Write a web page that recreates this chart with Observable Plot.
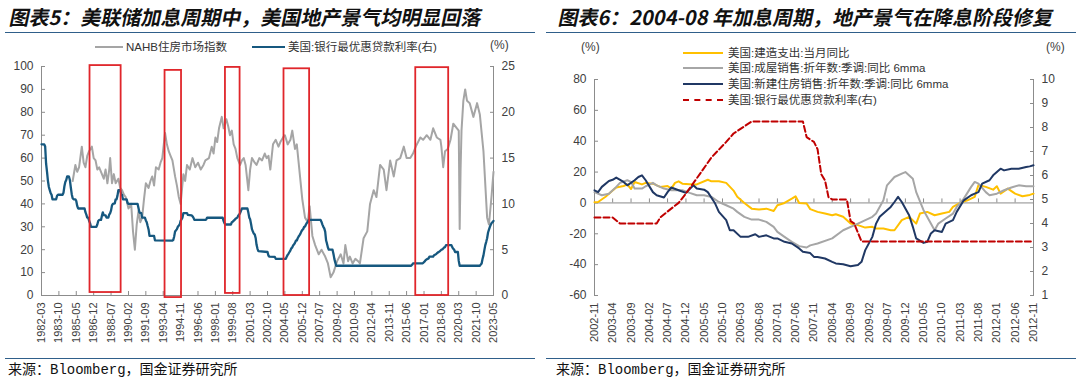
<!DOCTYPE html>
<html><head><meta charset="utf-8">
<script src="https://cdn.jsdelivr.net/npm/d3@7"></script>
<script src="https://cdn.jsdelivr.net/npm/@observablehq/plot@0.6"></script>
<style>
body{margin:0;width:1080px;height:385px;background:#fff;position:relative;overflow:hidden;font-family:"Liberation Sans","Noto Sans CJK SC",sans-serif;}
.abs{position:absolute;white-space:nowrap;}
.title{font-family:"Noto Sans CJK SC",sans-serif;font-weight:700;font-size:20px;line-height:20px;color:#111;transform:skewX(-12deg);transform-origin:0 100%;}
.rule{position:absolute;height:0;border-top:1.6px solid #2f5f8a;}
.src{font-family:"Liberation Mono","Noto Sans CJK SC",monospace;font-size:14px;line-height:14px;color:#111;}
.leg{font-family:"Liberation Sans","Noto Sans CJK SC",sans-serif;font-size:11.5px;line-height:12px;color:#333;}
.sw{position:absolute;height:0;}
.pct{font-size:12px;color:#404040;}
</style></head><body>
<div class="abs title" style="left:8px;top:7px;">图表5：美联储加息周期中，美国地产景气均明显回落</div>
<div class="abs title" style="left:557px;top:7px;">图表6：2004-08 年加息周期，地产景气在降息阶段修复</div>
<div class="rule" style="left:5px;top:32px;width:530px;"></div>
<div class="rule" style="left:546px;top:32px;width:530px;"></div>

<div id="leftChart" class="abs" style="left:0;top:55px;"></div>
<div id="rightChart" class="abs" style="left:545px;top:55px;"></div>

<!-- left legend -->
<div class="sw" style="left:95px;top:46px;width:28px;border-top:2.5px solid #a5a5a5;"></div>
<div class="abs leg" style="left:126px;top:41px;">NAHB住房市场指数</div>
<div class="sw" style="left:252px;top:46px;width:33px;border-top:2.5px solid #16587f;"></div>
<div class="abs leg" style="left:288px;top:41px;">美国:银行最优惠贷款利率(右)</div>
<div class="abs pct" style="left:490px;top:38px;">(%)</div>

<!-- right legend -->
<div class="sw" style="left:683px;top:52px;width:40px;border-top:2.5px solid #ffc000;"></div>
<div class="abs leg" style="left:728px;top:47px;">美国:建造支出:当月同比</div>
<div class="sw" style="left:683px;top:67px;width:40px;border-top:2.5px solid #a6a6a6;"></div>
<div class="abs leg" style="left:728px;top:62px;">美国:成屋销售:折年数:季调:同比 6mma</div>
<div class="sw" style="left:683px;top:83px;width:40px;border-top:2.5px solid #203864;"></div>
<div class="abs leg" style="left:728px;top:78px;">美国:新建住房销售:折年数:季调:同比 6mma</div>
<div class="sw" style="left:683px;top:99px;width:40px;border-top:2.5px dashed #c00000;"></div>
<div class="abs leg" style="left:728px;top:94px;">美国:银行最优惠贷款利率(右)</div>
<div class="abs pct" style="left:581px;top:40px;">(%)</div>
<div class="abs pct" style="left:1046px;top:40px;">(%)</div>

<div class="rule" style="left:5px;top:358px;width:530px;"></div>
<div class="rule" style="left:546px;top:358px;width:530px;"></div>
<div class="abs src" style="left:8px;top:363px;">来源：Bloomberg，国金证券研究所</div>
<div class="abs src" style="left:556px;top:363px;">来源：Bloomberg，国金证券研究所</div>

<script>
// ---------- Chart 5 data ----------
const leftTickLabels = ["1982-03","1983-10","1985-05","1986-12","1988-07","1990-02","1991-09","1993-04","1994-11","1996-06","1998-01","1999-08","2001-03","2002-10","2004-05","2005-12","2007-07","2009-02","2010-09","2012-04","2013-11","2015-06","2017-01","2018-08","2020-03","2021-10","2023-05"];
const leftAxisTicks = [0,10,20,30,40,50,60,70,80,90,100];
const leftRightAxisTicks = [0,5,10,15,20,25];

const nahbIndex = [
["1985-01",50],["1985-04",57],["1985-06",54],["1985-08",56],["1985-11",65],["1986-01",58],["1986-03",56],["1986-05",61],["1986-07",63],["1986-10",65],
["1986-12",60],["1987-02",59],["1987-04",55],["1987-06",56],["1987-09",53],["1987-11",51],["1988-01",55],["1988-03",49],["1988-05",55],["1988-06",60],
["1988-08",49],["1988-10",53],["1988-12",49],["1989-03",51],["1989-05",47],["1989-07",46],["1989-09",44],["1989-11",43],["1990-02",38],["1990-05",40],
["1990-07",28],["1990-09",20],["1990-11",31],["1991-01",37],["1991-03",32],["1991-05",34],["1991-07",42],["1991-09",49],["1991-12",47],["1992-02",50],
["1992-04",52],["1992-06",48],["1992-08",56],["1992-11",55],["1993-01",58],["1993-03",60],["1993-06",71],["1993-08",66],["1993-10",63],["1993-12",61],
["1994-02",59],["1994-05",52],["1994-07",48],["1994-09",43],["1994-11",40],["1995-02",53],["1995-04",50],["1995-06",57],["1995-09",55],["1995-12",60],
["1996-03",56],["1996-06",58],["1996-09",55],["1996-12",57],["1997-02",59],["1997-06",60],["1997-09",65],["1997-11",62],["1998-01",69],["1998-03",67],
["1998-05",73],["1998-08",78],["1998-10",73],["1999-01",77],["1999-03",74],["1999-05",70],["1999-07",72],["1999-09",66],["1999-11",64],["2000-01",60],
["2000-04",57],["2000-06",59],["2000-08",60],["2000-10",57],["2001-01",46],["2001-03",55],["2001-05",60],["2001-08",58],["2001-10",57],["2002-01",60],
["2002-04",59],["2002-07",62],["2002-09",60],["2002-11",61],["2003-01",55],["2003-04",66],["2003-07",68],["2003-10",65],["2003-12",67],["2004-03",69],
["2004-05",70],["2004-08",66],["2004-11",68],["2005-01",72],["2005-04",64],["2005-06",66],["2005-08",58],["2005-12",42],["2006-03",34],["2006-06",32],
["2006-08",39],["2006-11",26],["2007-02",22],["2007-06",18],["2007-09",20],["2008-01",17],["2008-04",14],["2008-07",8],["2008-10",10],["2009-02",15],
["2009-06",18],["2009-09",14],["2009-11",22],["2010-02",15],["2010-04",17],["2010-07",14],["2010-10",16],["2011-01",15],["2011-03",14],["2011-07",25],
["2011-11",28],["2012-02",40],["2012-06",46],["2012-09",43],["2013-01",57],["2013-05",55],["2013-08",46],["2013-12",59],["2014-04",52],["2014-07",59],
["2014-11",60],["2015-03",65],["2015-06",60],["2015-10",60],["2016-01",62],["2016-04",65],["2016-09",69],["2016-12",68],["2017-04",70],["2017-08",68],
["2017-11",73],["2018-03",69],["2018-07",68],["2018-08",65],["2018-10",56],["2018-12",63],["2019-03",64],["2019-06",68],["2019-09",75],["2020-01",73],
["2020-03",72],["2020-04",29],["2020-05",55],["2020-06",72],["2020-08",85],["2020-10",90],["2020-12",85],["2021-03",84],["2021-07",78],["2021-11",84],
["2022-02",79],["2022-06",63],["2022-10",34],["2022-12",31],["2023-03",44],["2023-05",54]
];

const primeRate = [
["1982-03",16.5],["1982-06",16.5],["1982-07",16.26],["1982-08",14.39],["1982-09",13.5],["1982-10",12.52],["1982-11",11.85],["1982-12",11.5],["1983-01",11.16],["1983-02",10.98],
["1983-03",10.5],["1983-07",10.5],["1983-08",10.89],["1983-09",11.0],["1984-02",11.0],["1984-03",11.21],["1984-04",11.93],["1984-05",12.39],["1984-06",12.6],["1984-07",13.0],
["1984-08",13.0],["1984-09",12.97],["1984-10",12.58],["1984-11",11.77],["1984-12",11.06],["1985-01",10.61],["1985-02",10.5],["1985-04",10.5],["1985-05",10.31],["1985-06",9.78],
["1985-07",9.5],["1986-02",9.5],["1986-03",9.1],["1986-04",8.83],["1986-05",8.5],["1986-06",8.5],["1986-07",8.16],["1986-08",7.9],["1986-09",7.5],["1987-03",7.5],
["1987-04",7.75],["1987-05",8.14],["1987-06",8.25],["1987-08",8.25],["1987-09",8.7],["1987-10",9.07],["1987-11",8.78],["1988-01",8.75],["1988-02",8.51],["1988-04",8.5],
["1988-05",8.84],["1988-06",9.0],["1988-07",9.29],["1988-08",9.84],["1988-09",10.0],["1988-11",10.05],["1988-12",10.5],["1989-01",10.5],["1989-02",10.93],["1989-03",11.5],
["1989-05",11.5],["1989-06",11.07],["1989-07",10.98],["1989-08",10.5],["1989-12",10.5],["1990-01",10.11],["1990-02",10.0],["1990-12",10.0],["1991-01",9.52],["1991-02",9.05],
["1991-04",9.0],["1991-05",8.5],["1991-08",8.5],["1991-09",8.2],["1991-10",8.0],["1991-11",7.58],["1991-12",7.21],["1992-01",6.5],["1992-06",6.5],["1992-07",6.02],
["1994-02",6.0],["1994-03",6.06],["1994-04",6.45],["1994-05",6.99],["1994-07",7.25],["1994-08",7.51],["1994-10",7.75],["1994-11",8.15],["1995-01",8.5],["1995-02",9.0],
["1995-06",9.0],["1995-07",8.8],["1995-11",8.75],["1995-12",8.65],["1996-01",8.5],["1996-02",8.25],["1997-02",8.25],["1997-03",8.3],["1997-04",8.5],["1998-09",8.49],
["1998-10",8.12],["1998-11",7.89],["1998-12",7.75],["1999-06",7.75],["1999-07",8.0],["1999-08",8.06],["1999-10",8.25],["1999-11",8.37],["2000-01",8.5],["2000-02",8.73],
["2000-03",8.83],["2000-04",9.0],["2000-05",9.24],["2000-06",9.5],["2000-12",9.5],["2001-01",9.05],["2001-02",8.5],["2001-03",8.32],["2001-04",7.8],["2001-05",7.24],
["2001-06",6.98],["2001-07",6.75],["2001-08",6.67],["2001-09",6.28],["2001-10",5.53],["2001-11",5.1],["2001-12",4.84],["2002-10",4.75],["2002-11",4.35],["2002-12",4.25],
["2003-06",4.22],["2003-07",4.0],["2004-06",4.01],["2004-07",4.25],["2004-08",4.43],["2004-09",4.58],["2004-10",4.75],["2004-11",4.93],["2004-12",5.15],["2005-01",5.25],
["2005-02",5.49],["2005-03",5.58],["2005-04",5.75],["2005-05",5.98],["2005-06",6.01],["2005-07",6.25],["2005-08",6.44],["2005-09",6.59],["2005-10",6.75],["2005-11",7.0],
["2005-12",7.15],["2006-01",7.26],["2006-02",7.5],["2006-03",7.53],["2006-04",7.75],["2006-05",7.93],["2006-06",8.02],["2006-07",8.25],["2007-08",8.25],["2007-09",8.03],
["2007-10",7.74],["2007-11",7.5],["2007-12",7.33],["2008-01",6.98],["2008-02",6.0],["2008-03",5.66],["2008-04",5.24],["2008-05",5.0],["2008-09",5.0],["2008-10",4.56],
["2008-11",4.0],["2008-12",3.61],["2009-01",3.25],["2015-11",3.25],["2015-12",3.35],["2016-01",3.5],["2016-11",3.5],["2016-12",3.55],["2017-02",3.75],["2017-03",3.88],
["2017-05",4.0],["2017-06",4.05],["2017-07",4.25],["2017-11",4.25],["2017-12",4.4],["2018-02",4.5],["2018-03",4.59],["2018-05",4.75],["2018-06",4.8],["2018-08",5.0],
["2018-09",5.03],["2018-11",5.25],["2018-12",5.28],["2019-01",5.5],["2019-07",5.5],["2019-08",5.25],["2019-09",5.1],["2019-10",4.99],["2019-11",4.75],["2020-02",4.75],
["2020-03",3.78],["2020-04",3.25],["2022-02",3.25],["2022-03",3.37],["2022-04",3.5],["2022-05",3.98],["2022-06",4.38],["2022-07",4.95],["2022-08",5.5],["2022-09",5.86],
["2022-10",6.25],["2022-11",6.88],["2022-12",7.19],["2023-01",7.5],["2023-02",7.74],["2023-03",7.92],["2023-04",8.0],["2023-05",8.14]
];

// rate-hike windows marked with red boxes
const hikeBoxStart  = ["1986-08","1993-06","1998-12","2004-04","2016-04"];
const hikeBoxEnd    = ["1989-06","1994-12","2000-04","2006-08","2019-04"];
const hikeBoxTop    = [100.4, 98.3, 99.6, 99.0, 99.5];
const hikeBoxBottom = [1.3, -0.9, 0.9, 0, 0];

// ---------- Chart 6 data ----------
const rightTickLabels = ["2002-11","2003-04","2003-09","2004-02","2004-07","2004-12","2005-05","2005-10","2006-03","2006-08","2007-01","2007-06","2007-11","2008-04","2008-09","2009-02","2009-07","2009-12","2010-05","2010-10","2011-03","2011-08","2012-01","2012-06","2012-11"];
const rightLeftAxisTicks = [-60,-40,-20,0,20,40,60,80];
const rightRightAxisTicks = [1,2,3,4,5,6,7,8,9,10];

const constructionYoY = [
["2002-11",0.5],["2002-12",0.6],["2003-02",4],["2003-04",8],["2003-05",10],["2003-07",11],["2003-08",12],["2003-09",9],["2003-10",13.6],["2003-12",12],
["2004-01",13],["2004-03",12.5],["2004-05",10.4],["2004-07",11],["2004-08",9.3],["2004-09",13],["2004-10",14],["2004-11",12.5],["2005-02",12],["2005-03",12],
["2005-06",15],["2005-07",14],["2005-09",14],["2005-11",13],["2006-01",8],["2006-02",4],["2006-04",0],["2006-06",-3.7],["2006-08",-4.3],["2006-10",-3.7],
["2006-12",-5.2],["2007-01",-1.5],["2007-03",0],["2007-05",2.8],["2007-06",4.3],["2007-07",0],["2007-09",-0.4],["2007-10",-4],["2007-12",-5.8],["2008-02",-6.9],
["2008-04",-8],["2008-05",-7.3],["2008-07",-9],["2008-09",-13.4],["2008-11",-14.4],["2009-01",-16],["2009-03",-15.5],["2009-04",-16.6],["2009-06",-16.6],["2009-08",-17.7],
["2009-09",-17.7],["2009-11",-11.2],["2010-01",-9],["2010-03",-13.4],["2010-04",-6.9],["2010-06",-5.8],["2010-08",-8],["2010-10",-6.9],["2010-12",-5.8],["2011-01",-2.6],
["2011-03",0],["2011-05",1.7],["2011-07",3.9],["2011-08",11.6],["2011-10",10.4],["2011-12",8.6],["2012-01",10.8],["2012-02",6],["2012-04",9.3],["2012-06",6],
["2012-08",4.3],["2012-10",5.2],["2012-11",6]
];

const existingSalesYoY = [
["2002-11",7],["2003-01",5],["2003-03",6],["2003-05",10.4],["2003-06",13],["2003-08",14.7],["2003-09",13.6],["2003-10",9.3],["2003-12",9.3],["2004-01",10.8],
["2004-03",13],["2004-04",11.4],["2004-06",9.3],["2004-08",8.2],["2004-11",8.2],["2005-01",6.5],["2005-03",5],["2005-05",5],["2005-07",3.9],["2005-09",0.6],
["2005-11",-1.5],["2006-01",-3.7],["2006-02",-5.8],["2006-04",-9],["2006-06",-10.8],["2006-08",-10.8],["2006-10",-12.3],["2006-12",-15.5],["2007-01",-18.8],["2007-03",-22],
["2007-05",-25.2],["2007-07",-28],["2007-09",-28.9],["2007-10",-27.5],["2007-12",-26.3],["2008-04",-23],["2008-07",-17.7],["2008-11",-13.4],["2009-03",-9],["2009-04",-6.9],
["2009-06",1.7],["2009-07",11.4],["2009-09",16.8],["2009-11",19],["2009-12",20],["2010-02",15.7],["2010-03",7],["2010-05",-4.7],["2010-07",-13.4],["2010-08",-17.7],
["2010-09",-13.4],["2010-11",-10.1],["2011-01",-6.9],["2011-02",-2.6],["2011-04",2.8],["2011-06",10.4],["2011-07",13.6],["2011-08",12.5],["2011-10",7],["2011-11",5],
["2012-01",6],["2012-03",8.2],["2012-05",10],["2012-07",11.4],["2012-09",10.8],["2012-11",10.8]
];

const newSalesYoY = [
["2002-11",8.2],["2002-12",7],["2003-01",10.4],["2003-03",14.2],["2003-04",15],["2003-05",16.4],["2003-07",13.6],["2003-08",11.4],["2003-10",14.7],["2003-11",16.8],
["2003-12",17.9],["2004-01",14.7],["2004-03",7],["2004-04",5],["2004-06",3.5],["2004-07",7],["2004-08",10],["2004-10",8.2],["2004-12",6.5],["2005-02",11.4],
["2005-03",9.3],["2005-05",8.6],["2005-06",7],["2005-08",-0.4],["2005-09",-5.8],["2005-11",-11.2],["2005-12",-17.7],["2006-01",-17.7],["2006-03",-22],["2006-05",-22],
["2006-07",-20.3],["2006-08",-22],["2006-10",-21],["2006-12",-23],["2007-01",-23],["2007-03",-25.2],["2007-05",-26.3],["2007-07",-29.5],["2007-08",-31.7],["2007-10",-32.5],
["2007-11",-35],["2007-12",-35],["2008-02",-36],["2008-04",-38.2],["2008-05",-39.2],["2008-07",-39.7],["2008-09",-41],["2008-11",-40.3],["2008-12",-38.2],["2009-01",-30.6],
["2009-03",-22],["2009-04",-13.4],["2009-05",-9],["2009-07",-4.7],["2009-08",-2.6],["2009-09",0.6],["2009-10",3.9],["2009-11",0.6],["2010-01",-8],["2010-02",-15.5],
["2010-03",-23],["2010-05",-25.9],["2010-06",-25.2],["2010-07",-19.8],["2010-08",-17.7],["2010-10",-18.8],["2010-11",-13.4],["2011-01",-11.2],["2011-02",-5.8],["2011-04",1.7],
["2011-06",5],["2011-07",6],["2011-08",7],["2011-09",12.5],["2011-11",14.7],["2011-12",17.9],["2012-02",22.2],["2012-03",21.1],["2012-05",22.2],["2012-07",22.2],
["2012-09",23.3],["2012-10",23.7],["2012-11",24.4]
];

const primeRateRight = [
["2002-11",4.25],["2003-04",4.25],["2003-06",4.0],["2004-04",4.0],["2004-05",4.25],["2004-07",4.5],["2004-10",4.86],["2004-12",5.25],["2005-04",6.1],["2005-07",6.75],
["2005-11",7.4],["2006-01",7.75],["2006-06",8.25],["2007-08",8.25],["2007-09",7.6],["2007-11",7.4],["2007-12",7.1],["2008-01",6.05],["2008-02",5.8],["2008-03",5.1],
["2008-04",5.0],["2008-08",5.0],["2008-09",4.1],["2008-10",4.0],["2008-12",3.25],["2012-11",3.25]
];

// ---------- helpers ----------
const parse = d3.utcParse("%Y-%m");
const fmt = d3.utcFormat("%Y-%m");
const plain = d => `${d}`;
const rows = arr => arr.map(([d, v]) => ({date: parse(d), value: v}));
const axisGray = "#8c8c8c";
const textGray = "#404040";
const baseStyle = {fontFamily: "'Liberation Sans', Arial, sans-serif", fontSize: "12px", color: textGray, background: "none", overflow: "visible"};

// ---------- Chart 5 ----------
const lt = leftTickLabels.map(parse);
const boxes = hikeBoxStart.map((s, i) => ({x1: parse(s), x2: parse(hikeBoxEnd[i]), y1: hikeBoxBottom[i], y2: hikeBoxTop[i]}));
const leftPlot = Plot.plot({
  width: 540, height: 300,
  marginTop: 11, marginRight: 47, marginBottom: 60, marginLeft: 41,
  style: baseStyle,
  x: {type: "utc", domain: [lt[0], lt[lt.length - 1]], label: null},
  y: {domain: [0, 100], label: null},
  marks: [
    Plot.ruleY([0], {stroke: axisGray}),
    Plot.ruleX([lt[0], lt[lt.length - 1]], {stroke: axisGray}),
    Plot.ruleX(lt, {y1: 0, y2: 1.75, stroke: axisGray}),
    Plot.axisX({ticks: lt, tickFormat: fmt, tickRotate: -90, tickSize: 0, tickPadding: 7, fontSize: 11, fill: textGray, label: null}),
    Plot.axisY({ticks: leftAxisTicks, tickFormat: plain, anchor: "left", tickSize: -4, tickPadding: 12, stroke: axisGray, fill: textGray, label: null}),
    Plot.axisY({ticks: leftRightAxisTicks.map(v => v * 4), tickFormat: d => `${d / 4}`, anchor: "right", tickSize: -4, tickPadding: 12, stroke: axisGray, fill: textGray, label: null}),
    Plot.line(rows(nahbIndex), {x: "date", y: "value", stroke: "#a5a5a5", strokeWidth: 2}),
    Plot.line(rows(primeRate), {x: "date", y: d => d.value * 4, stroke: "#16587f", strokeWidth: 2.3}),
    Plot.rect(boxes, {x1: "x1", x2: "x2", y1: "y1", y2: "y2", fill: "none", stroke: "#e0262b", strokeWidth: 1.8})
  ]
});
document.getElementById("leftChart").appendChild(leftPlot);

// ---------- Chart 6 ----------
const rt = rightTickLabels.map(parse);
const toLeft = r => (r - 1) * 140 / 9 - 60;
const fromLeft = l => (l + 60) * 9 / 140 + 1;
const rightPlot = Plot.plot({
  width: 535, height: 300,
  marginTop: 24, marginRight: 47, marginBottom: 60, marginLeft: 49,
  style: baseStyle,
  x: {type: "utc", domain: [rt[0], rt[rt.length - 1]], label: null},
  y: {domain: [-60, 80], label: null},
  marks: [
    Plot.ruleY([0], {stroke: axisGray}),
    Plot.ruleX([rt[0], rt[rt.length - 1]], {stroke: axisGray}),
    Plot.ruleX(rt, {y1: 0, y2: 2.6, stroke: axisGray}),
    Plot.axisX({ticks: rt, tickFormat: fmt, tickRotate: -90, tickSize: 0, tickPadding: 7, fontSize: 11, fill: textGray, label: null}),
    Plot.axisY({ticks: rightLeftAxisTicks, tickFormat: plain, anchor: "left", tickSize: -4, tickPadding: 12, stroke: axisGray, fill: textGray, label: null}),
    Plot.axisY({ticks: rightRightAxisTicks.map(toLeft), tickFormat: d => `${Math.round(fromLeft(d))}`, anchor: "right", tickSize: -4, tickPadding: 12, stroke: axisGray, fill: textGray, label: null}),
    Plot.line(rows(constructionYoY), {x: "date", y: "value", stroke: "#ffc000", strokeWidth: 2}),
    Plot.line(rows(existingSalesYoY), {x: "date", y: "value", stroke: "#a6a6a6", strokeWidth: 2}),
    Plot.line(rows(newSalesYoY), {x: "date", y: "value", stroke: "#203864", strokeWidth: 2}),
    Plot.line(rows(primeRateRight), {x: "date", y: d => toLeft(d.value), stroke: "#c00000", strokeWidth: 2, strokeDasharray: "6,3"})
  ]
});
document.getElementById("rightChart").appendChild(rightPlot);
</script>
</body></html>
